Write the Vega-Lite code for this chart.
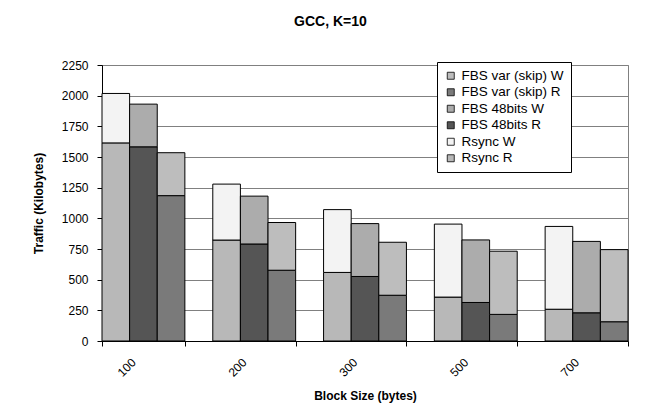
{
  "$schema": "https://vega.github.io/schema/vega-lite/v6.json",
  "width": 526,
  "height": 276,
  "autosize": "none",
  "padding": {"left": 102, "top": 65, "right": 28, "bottom": 75},
  "background": "white",
  "title": {"text": "GCC, K=10", "fontSize": 14, "font": "Liberation Sans", "fontWeight": "bold", "frame": "bounds", "anchor": "middle", "offset": 30, "color": "black"},
  "data": {
    "values": [
      {"block": "100", "method": "Rsync", "part": "R", "series": "Rsync R", "ord": 0, "value": 1615},
      {"block": "100", "method": "Rsync", "part": "W", "series": "Rsync W", "ord": 1, "value": 403},
      {"block": "100", "method": "FBS 48bits", "part": "R", "series": "FBS 48bits R", "ord": 0, "value": 1583},
      {"block": "100", "method": "FBS 48bits", "part": "W", "series": "FBS 48bits W", "ord": 1, "value": 348},
      {"block": "100", "method": "FBS var (skip)", "part": "R", "series": "FBS var (skip) R", "ord": 0, "value": 1185},
      {"block": "100", "method": "FBS var (skip)", "part": "W", "series": "FBS var (skip) W", "ord": 1, "value": 350},
      {"block": "200", "method": "Rsync", "part": "R", "series": "Rsync R", "ord": 0, "value": 823},
      {"block": "200", "method": "Rsync", "part": "W", "series": "Rsync W", "ord": 1, "value": 456},
      {"block": "200", "method": "FBS 48bits", "part": "R", "series": "FBS 48bits R", "ord": 0, "value": 791},
      {"block": "200", "method": "FBS 48bits", "part": "W", "series": "FBS 48bits W", "ord": 1, "value": 390},
      {"block": "200", "method": "FBS var (skip)", "part": "R", "series": "FBS var (skip) R", "ord": 0, "value": 577},
      {"block": "200", "method": "FBS var (skip)", "part": "W", "series": "FBS var (skip) W", "ord": 1, "value": 389},
      {"block": "300", "method": "Rsync", "part": "R", "series": "Rsync R", "ord": 0, "value": 559},
      {"block": "300", "method": "Rsync", "part": "W", "series": "Rsync W", "ord": 1, "value": 512},
      {"block": "300", "method": "FBS 48bits", "part": "R", "series": "FBS 48bits R", "ord": 0, "value": 526},
      {"block": "300", "method": "FBS 48bits", "part": "W", "series": "FBS 48bits W", "ord": 1, "value": 431},
      {"block": "300", "method": "FBS var (skip)", "part": "R", "series": "FBS var (skip) R", "ord": 0, "value": 373},
      {"block": "300", "method": "FBS var (skip)", "part": "W", "series": "FBS var (skip) W", "ord": 1, "value": 432},
      {"block": "500", "method": "Rsync", "part": "R", "series": "Rsync R", "ord": 0, "value": 358},
      {"block": "500", "method": "Rsync", "part": "W", "series": "Rsync W", "ord": 1, "value": 595},
      {"block": "500", "method": "FBS 48bits", "part": "R", "series": "FBS 48bits R", "ord": 0, "value": 314},
      {"block": "500", "method": "FBS 48bits", "part": "W", "series": "FBS 48bits W", "ord": 1, "value": 510},
      {"block": "500", "method": "FBS var (skip)", "part": "R", "series": "FBS var (skip) R", "ord": 0, "value": 217},
      {"block": "500", "method": "FBS var (skip)", "part": "W", "series": "FBS var (skip) W", "ord": 1, "value": 515},
      {"block": "700", "method": "Rsync", "part": "R", "series": "Rsync R", "ord": 0, "value": 259},
      {"block": "700", "method": "Rsync", "part": "W", "series": "Rsync W", "ord": 1, "value": 675},
      {"block": "700", "method": "FBS 48bits", "part": "R", "series": "FBS 48bits R", "ord": 0, "value": 230},
      {"block": "700", "method": "FBS 48bits", "part": "W", "series": "FBS 48bits W", "ord": 1, "value": 582},
      {"block": "700", "method": "FBS var (skip)", "part": "R", "series": "FBS var (skip) R", "ord": 0, "value": 157},
      {"block": "700", "method": "FBS var (skip)", "part": "W", "series": "FBS var (skip) W", "ord": 1, "value": 588}
    ]
  },
  "mark": {"type": "bar", "stroke": "black", "strokeWidth": 1},
  "encoding": {
    "x": {
      "field": "block", "type": "ordinal", "sort": ["100", "200", "300", "500", "700"],
      "scale": {"paddingInner": 0.252, "paddingOuter": 0},
      "axis": {"title": "Block Size (bytes)", "labelAngle": -45, "labelAlign": "right", "labelBaseline": "middle", "labelPadding": 14, "labelOffset": -10, "tickBand": "extent", "tickSize": 5, "titlePadding": 12}
    },
    "xOffset": {"field": "method", "type": "nominal", "sort": ["Rsync", "FBS 48bits", "FBS var (skip)"], "scale": {"paddingInner": 0, "paddingOuter": 0}},
    "y": {
      "field": "value", "type": "quantitative", "stack": "zero",
      "scale": {"domain": [0, 2250], "nice": false},
      "axis": {"title": "Traffic (Kilobytes)", "format": "d", "values": [0, 250, 500, 750, 1000, 1250, 1500, 1750, 2000, 2250], "grid": true, "tickSize": 5, "labelPadding": 9, "titlePadding": 16}
    },
    "color": {
      "field": "series", "type": "nominal",
      "scale": {
        "domain": ["FBS var (skip) W", "FBS var (skip) R", "FBS 48bits W", "FBS 48bits R", "Rsync W", "Rsync R"],
        "range": ["#bdbdbd", "#7a7a7a", "#acacac", "#555555", "#f3f3f3", "#b8b8b8"]
      },
      "legend": {"title": null}
    },
    "order": {"field": "ord", "type": "quantitative"}
  },
  "config": {
    "font": "Liberation Sans",
    "view": {"stroke": "#808080", "strokeWidth": 1},
    "axis": {
      "labelFont": "Liberation Sans", "labelFontSize": 12, "labelColor": "black",
      "titleFont": "Liberation Sans", "titleFontSize": 12, "titleFontWeight": "bold", "titleColor": "black",
      "domainColor": "black", "tickColor": "black", "gridColor": "#808080", "gridOpacity": 1
    },
    "axisX": {"grid": false},
    "legend": {
      "orient": "none", "legendX": 335, "legendY": -3,
      "fillColor": "white", "strokeColor": "black", "strokeWidth": 1, "padding": 7,
      "symbolType": "square", "symbolSize": 49, "symbolStrokeColor": "black", "symbolStrokeWidth": 0.8,
      "labelFont": "Liberation Sans", "labelFontSize": 13.5, "labelColor": "black",
      "rowPadding": 1.5, "labelOffset": 4
    }
  }
}
